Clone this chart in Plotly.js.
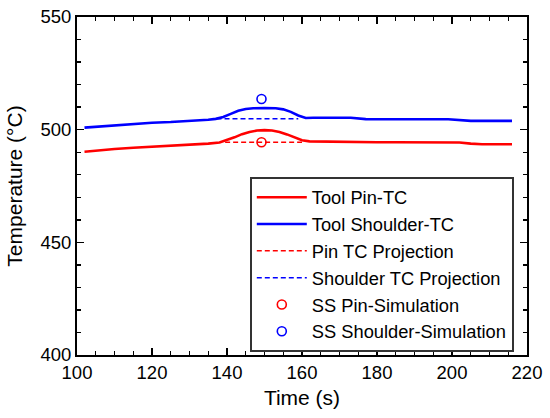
<!DOCTYPE html>
<html>
<head>
<meta charset="utf-8">
<script src="https://cdn.plot.ly/plotly-3.0.1.min.js"></script>
<style>html,body{margin:0;padding:0;background:#fff;}#chart{width:550px;height:418px;}</style>
</head>
<body>
<div id="chart"></div>
<script>
// Data
var pinTime = [102, 105, 110, 115, 120, 125, 130, 135, 138, 140, 142, 144, 146, 148, 150, 152, 154, 156, 158, 160, 162, 165, 170, 175, 180, 185, 190, 195, 200, 202, 205, 208, 212, 216];
var pinTemp = [490.2, 490.7, 491.4, 492.0, 492.4, 492.8, 493.3, 493.8, 494.3, 495.3, 496.6, 498.0, 499.0, 499.6, 499.8, 499.6, 499.0, 497.9, 496.6, 495.3, 494.8, 494.7, 494.6, 494.6, 494.4, 494.4, 494.4, 494.4, 494.4, 494.3, 493.8, 493.5, 493.5, 493.5];
var shoulderTime = [102, 105, 110, 115, 120, 125, 130, 135, 137, 139, 141, 143, 145, 147, 150, 153, 155, 157, 159, 161, 163, 166, 170, 173, 177, 180, 190, 199, 202, 205, 210, 216];
var shoulderTemp = [500.9, 501.3, 502.0, 502.6, 503.1, 503.4, 503.8, 504.4, 504.8, 505.6, 507.0, 508.4, 509.2, 509.5, 509.6, 509.5, 509.0, 507.9, 506.3, 505.2, 505.3, 505.4, 505.5, 505.3, 504.7, 504.6, 504.6, 504.6, 504.1, 503.9, 503.9, 503.9];
var pinProjTime = [139.5, 160];
var pinProjTemp = [494.4, 494.4];
var shoulderProjTime = [137.2, 159];
var shoulderProjTemp = [504.9, 504.9];
var simTime = [149.2];
var pinSimTemp = [494.4];
var shoulderSimTemp = [513.6];
var seriesNames = ["Tool Pin-TC", "Tool Shoulder-TC", "Pin TC Projection", "Shoulder TC Projection", "SS Pin-Simulation", "SS Shoulder-Simulation"];
var xTickVals = [100, 120, 140, 160, 180, 200, 220];
var yTickVals = [400, 450, 500, 550];

var RED = '#ff0000', BLUE = '#0000ff';
var traces = [
  {x: pinTime, y: pinTemp, name: seriesNames[0], mode: 'lines', line: {color: RED, width: 2.6}},
  {x: shoulderTime, y: shoulderTemp, name: seriesNames[1], mode: 'lines', line: {color: BLUE, width: 2.6}},
  {x: pinProjTime, y: pinProjTemp, name: seriesNames[2], mode: 'lines', line: {color: RED, width: 1.5, dash: '5px,3px'}},
  {x: shoulderProjTime, y: shoulderProjTemp, name: seriesNames[3], mode: 'lines', line: {color: BLUE, width: 1.5, dash: '5px,3px'}},
  {x: simTime, y: pinSimTemp, name: seriesNames[4], mode: 'markers', marker: {symbol: 'circle-open', size: 9, color: RED, line: {width: 1.6, color: RED}}},
  {x: simTime, y: shoulderSimTemp, name: seriesNames[5], mode: 'markers', marker: {symbol: 'circle-open', size: 9, color: BLUE, line: {width: 1.6, color: BLUE}}}
];

var fontFam = 'Liberation Sans, Arial, sans-serif';
var layout = {
  width: 550, height: 418,
  margin: {l: 77, r: 23, t: 17, b: 63},
  paper_bgcolor: '#fff', plot_bgcolor: '#fff',
  font: {family: fontFam, color: '#000', size: 18},
  showlegend: true,
  legend: {
    x: 0.384, y: 0.527, xanchor: 'left', yanchor: 'top',
    bgcolor: '#fff', bordercolor: '#333', borderwidth: 2,
    font: {family: fontFam, size: 18.3, color: '#000'},
    itemwidth: 50, tracegroupgap: 0
  },
  xaxis: {
    range: [100, 220], tickvals: xTickVals, ticktext: xTickVals.map(String),
    showgrid: false, zeroline: false,
    showline: true, linecolor: '#000', linewidth: 2, mirror: 'ticks',
    ticks: 'inside', ticklen: 7, tickwidth: 1.6, tickcolor: '#000',
    minor: {dtick: 5, ticks: 'inside', ticklen: 4, tickwidth: 1.4, tickcolor: '#000', showgrid: false},
    tickfont: {size: 18.5}, ticklabelstandoff: 0,
    title: {text: 'Time (s)', font: {size: 21}, standoff: 8}
  },
  yaxis: {
    range: [400, 550], tickvals: yTickVals, ticktext: yTickVals.map(String),
    showgrid: false, zeroline: false,
    showline: true, linecolor: '#000', linewidth: 2, mirror: 'ticks',
    ticks: 'inside', ticklen: 7, tickwidth: 1.6, tickcolor: '#000',
    minor: {dtick: 10, ticks: 'inside', ticklen: 4, tickwidth: 1.4, tickcolor: '#000', showgrid: false},
    tickfont: {size: 18.5},
    title: {text: 'Temperature (°C)', font: {size: 21}, standoff: 12}
  }
};

Plotly.newPlot('chart', traces, layout, {displayModeBar: false, staticPlot: true});
</script>
</body>
</html>
